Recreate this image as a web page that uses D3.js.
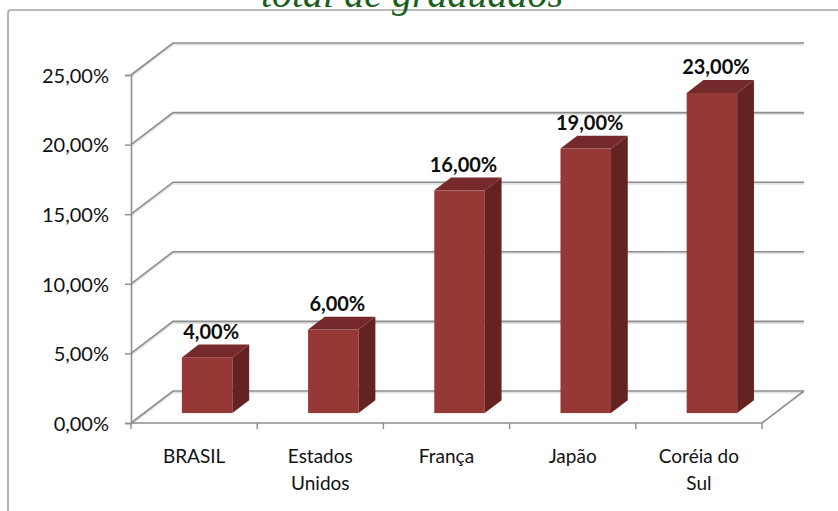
<!DOCTYPE html>
<html>
<head>
<meta charset="utf-8">
<script src="https://cdn.jsdelivr.net/npm/d3@7"></script>
<style>
  body { margin: 0; background: #fff; }
  svg { display: block; }
  .ylab { font-family: Lato, "Open Sans", sans-serif; font-size: 20px; fill: #111; }
  .xlab { font-family: Lato, "Open Sans", sans-serif; font-size: 19px; fill: #111; }
  .vlab { font-family: Lato, "Open Sans", sans-serif; font-size: 20px; font-weight: bold; fill: #0d0d0d; }
  .title { font-family: "Liberation Serif", serif; font-style: italic; font-size: 40px; fill: #1b5e20; }
</style>
</head>
<body>
<svg id="chart" width="838" height="511"></svg>
<script>
// ---------- data

const CATEGORIES = ["BRASIL", "Estados Unidos", "França", "Japão", "Coréia do Sul"];
const CATEGORY_LINES = [["BRASIL"], ["Estados", "Unidos"], ["França"], ["Japão"], ["Coréia do", "Sul"]];
const VALUES = [4, 6, 16, 19, 23];
const Y_TICKS = [0, 5, 10, 15, 20, 25];
const TITLE = "total de graduados";

// ---------- look

const FRONT_COLOR = "#963836";
const TOP_COLOR = "#76292a";
const SIDE_COLOR = "#642220";
const GRID_COLOR = "#8e8e8e";

// wall depth (3d offset) and bar depth
const DX = 42, DY = 32;
const BAR_SHIFT = 0.31;   // where the bar sits in the depth
const BAR_DEPTH = 0.4;

const ptLocale = d3.formatLocale({ decimal: ",", thousands: ".", grouping: [3], currency: ["", ""] });
const fmt = v => ptLocale.format(".2f")(v) + "%";

const svg = d3.select("#chart");

const x = d3.scaleBand().domain(CATEGORIES).range([131, 762]).padding(0);
const y = d3.scaleLinear().domain([0, 25]).range([423, 75]);

const x0 = x.range()[0], x1 = x.range()[1];

// outer frame
svg.append("path")
  .attr("d", "M8,511 L8,13 Q8,10 11,10 L838,10")
  .attr("fill", "none")
  .attr("stroke", "#a3a3a3")
  .attr("stroke-width", 1.6);

// title (cut by the top edge like the source)
svg.append("text")
  .attr("class", "title")
  .attr("x", 412)
  .attr("y", 7)
  .attr("text-anchor", "middle")
  .text(TITLE);

// ---------- walls: gridlines on left wall and back wall

const grid = svg.append("g");
Y_TICKS.forEach(function (t) {
  const yy = y(t);
  const pts = [[x0, yy], [x0 + DX, yy - DY], [x1 + DX, yy - DY]];
  grid.append("polyline")
    .attr("points", pts.map(p => [p[0], p[1] + 1.5].join(",")).join(" "))
    .attr("fill", "none").attr("stroke", "#e2e2e2").attr("stroke-width", 2);
  grid.append("polyline")
    .attr("points", pts.map(p => p.join(",")).join(" "))
    .attr("fill", "none").attr("stroke", GRID_COLOR).attr("stroke-width", 1.6);
});

// floor edges
svg.append("polyline")
  .attr("points", [[x0, y(0)], [x1, y(0)], [x1 + DX, y(0) - DY]].map(p => p.join(",")).join(" "))
  .attr("fill", "none").attr("stroke", GRID_COLOR).attr("stroke-width", 1.6);

// y axis
const yAxis = d3.axisLeft(y)
  .tickValues(Y_TICKS)
  .tickSize(6)
  .tickPadding(16)
  .tickFormat(fmt);

const ya = svg.append("g")
  .attr("transform", `translate(${x0},0)`)
  .call(yAxis);
ya.select(".domain").attr("stroke", GRID_COLOR).attr("stroke-width", 1.6);
ya.selectAll(".tick line").attr("stroke", GRID_COLOR).attr("stroke-width", 1.4);
ya.selectAll(".tick text").attr("class", "ylab").attr("dy", "0.36em").attr("font-family", null).attr("font-size", null);

// x ticks at band edges
const edges = CATEGORIES.map(c => x(c)).concat([x1]);
svg.append("g").selectAll("line")
  .data(edges)
  .enter()
  .append("line")
  .attr("x1", d => d).attr("x2", d => d)
  .attr("y1", y(0)).attr("y2", y(0) + 6)
  .attr("stroke", GRID_COLOR).attr("stroke-width", 1.4);

// x labels
const xl = svg.append("g").selectAll("text")
  .data(CATEGORIES)
  .enter()
  .append("text")
  .attr("class", "xlab")
  .attr("text-anchor", "middle")
  .attr("x", d => x(d) + x.bandwidth() / 2)
  .attr("y", 463);
xl.each(function (d, i) {
  const t = d3.select(this);
  CATEGORY_LINES[i].forEach(function (line, j) {
    t.append("tspan")
      .attr("x", x(d) + x.bandwidth() / 2)
      .attr("dy", j === 0 ? 0 : 27)
      .text(line);
  });
});

// ---------- bars

const bw = x.bandwidth() * 0.4;
const sx = DX * BAR_SHIFT, sy = DY * BAR_SHIFT;
const bdx = DX * BAR_DEPTH, bdy = DY * BAR_DEPTH;

const bars = svg.append("g").selectAll("g")
  .data(CATEGORIES.map((c, i) => ({ cat: c, value: VALUES[i] })))
  .enter()
  .append("g");

function geom(d) {
  const left = x(d.cat) + (x.bandwidth() - bw) / 2 + sx;
  const right = left + bw;
  const base = y(0) - sy;
  const top = y(d.value) - sy;
  return { left, right, base, top };
}

bars.append("rect")
  .attr("x", d => geom(d).left)
  .attr("y", d => geom(d).top)
  .attr("width", bw)
  .attr("height", d => geom(d).base - geom(d).top)
  .attr("fill", FRONT_COLOR);

bars.append("polygon")
  .attr("points", function (d) {
    const g = geom(d);
    return [[g.right, g.top], [g.right + bdx, g.top - bdy], [g.right + bdx, g.base - bdy], [g.right, g.base]]
      .map(p => p.join(",")).join(" ");
  })
  .attr("fill", SIDE_COLOR);

bars.append("polygon")
  .attr("points", function (d) {
    const g = geom(d);
    return [[g.left, g.top], [g.left + bdx, g.top - bdy], [g.right + bdx, g.top - bdy], [g.right, g.top]]
      .map(p => p.join(",")).join(" ");
  })
  .attr("fill", TOP_COLOR);

// value labels
bars.append("text")
  .attr("class", "vlab")
  .attr("text-anchor", "middle")
  .attr("x", d => geom(d).left + bw / 2 + 4)
  .attr("y", d => geom(d).top - bdy - 6)
  .text(d => fmt(d.value));
</script>
</body>
</html>
